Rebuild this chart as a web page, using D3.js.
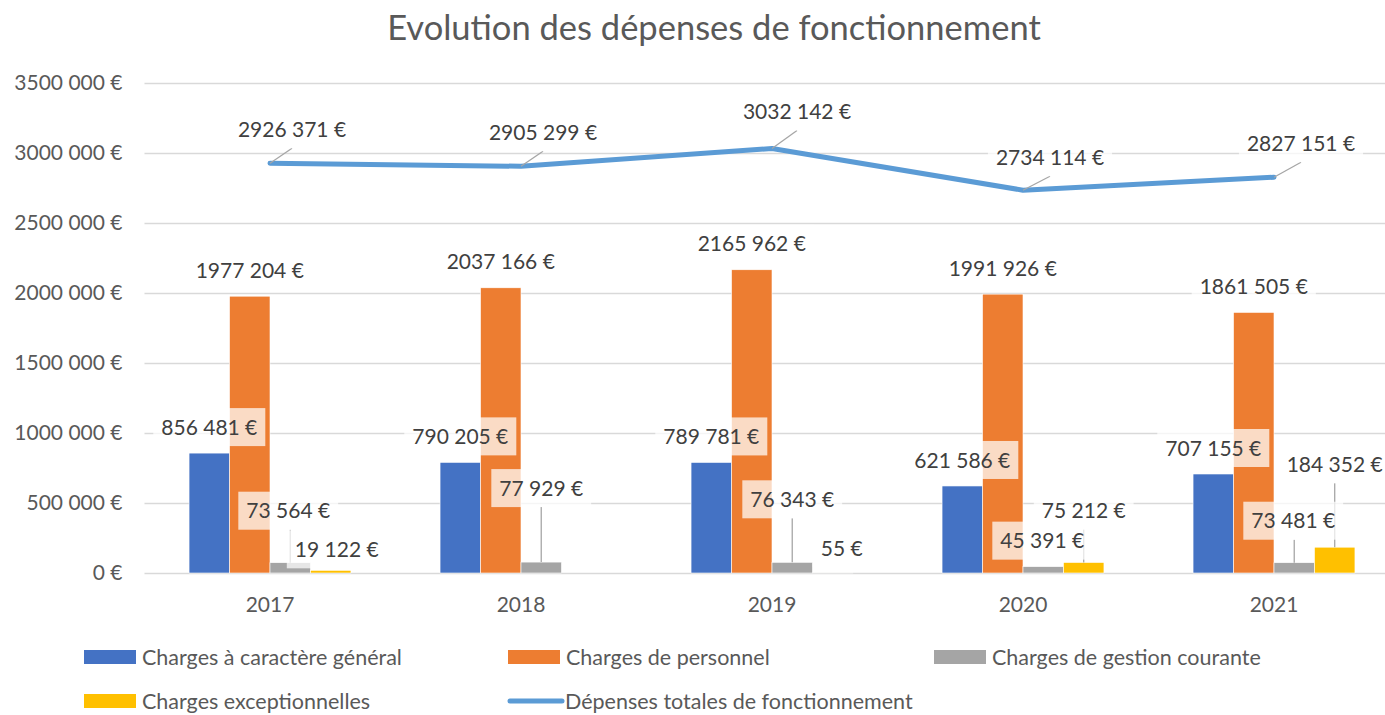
<!DOCTYPE html>
<html lang="fr">
<head>
<meta charset="utf-8">
<script src="https://cdn.jsdelivr.net/npm/d3@7"></script>
<style>
  html, body { margin: 0; padding: 0; background: #ffffff; }
  svg { display: block; font-family: Lato, "Open Sans", sans-serif; }
</style>
</head>
<body>
<svg id="chart" width="1385" height="715"></svg>
<script>
// ---- Data -------------------------------------------------------------
const years = ["2017", "2018", "2019", "2020", "2021"];
const seriesNames = [
  "Charges à caractère général",
  "Charges de personnel",
  "Charges de gestion courante",
  "Charges exceptionnelles"
];
const chargesGenerales       = [856481, 790205, 789781, 621586, 707155];
const chargesPersonnel       = [1977204, 2037166, 2165962, 1991926, 1861505];
const chargesGestion         = [73564, 77929, 76343, 45391, 73481];
const chargesExceptionnelles = [19122, null, 55, 75212, 184352];
const totalName = "Dépenses totales de fonctionnement";
const depensesTotales        = [2926371, 2905299, 3032142, 2734114, 2827151];
const yTicks = [0, 500000, 1000000, 1500000, 2000000, 2500000, 3000000, 3500000];
const title = "Evolution des dépenses de fonctionnement";

// ---- Layout / style ---------------------------------------------------
const colors = ["#4472C4", "#ED7D31", "#A5A5A5", "#FFC000"];
const lineColor = "#5B9BD5";
const plot = { left: 144.5, right: 1399.5, top: 83, bottom: 573 };
const FS = "21px";

// Hand-placed data label nudges (pixels, relative to the bar top / point)
const gestionLabelNudge = [[-2, -52], [0, -74], [0, -63], [-1, -26], [-1, -42]];
const exceptLabelNudge  = [[6, -21], [0, 0], [9, -25], [0, -52], [0, -83]];
const totalLabelNudge   = [[22, -34], [22, -34], [25, -37], [27, -33], [27, -34]];

const fmt = v => {
  const s = String(Math.round(v));
  return (s.length > 3 ? s.slice(0, -3) + " " + s.slice(-3) : s) + " €";
};

const svg = d3.select("#chart");

const x0 = d3.scaleBand().domain(years)
  .range([plot.left, plot.right]).paddingInner(0.355).paddingOuter(0.1775);
const x1 = d3.scaleBand().domain(d3.range(4)).range([0, x0.bandwidth()]).padding(0);
const y = d3.scaleLinear().domain([0, 3500000]).range([plot.bottom, plot.top]);

// Title
svg.append("text")
  .attr("x", 714).attr("y", 40)
  .attr("text-anchor", "middle")
  .attr("fill", "#595959")
  .style("font-size", "34.5px")
  .text(title);

// Gridlines + y axis labels
const yAxis = d3.axisLeft(y).tickValues(yTicks).tickFormat(fmt)
  .tickSize(-(plot.right - plot.left)).tickPadding(22);
const gy = svg.append("g").attr("transform", `translate(${plot.left},0)`).call(yAxis);
gy.select(".domain").remove();
gy.selectAll(".tick line").attr("stroke", "#D9D9D9").attr("stroke-width", 1.3);
gy.selectAll(".tick text").attr("fill", "#595959").style("font-size", FS)
  .style("font-family", "Lato, sans-serif");

// X axis labels
const xAxis = d3.axisBottom(x0).tickSize(0).tickPadding(24);
const gx = svg.append("g").attr("transform", `translate(0,${plot.bottom})`).call(xAxis);
gx.select(".domain").remove();
gx.selectAll(".tick text").attr("fill", "#595959").style("font-size", FS)
  .style("font-family", "Lato, sans-serif");

// Bars
const seriesValues = [chargesGenerales, chargesPersonnel, chargesGestion, chargesExceptionnelles];
const bars = [];
seriesValues.forEach((vals, s) => {
  vals.forEach((v, i) => {
    if (v == null) return;
    bars.push({ s, i, v, x: x0(years[i]) + x1(s), w: x1.bandwidth() });
  });
});
svg.append("g").selectAll("rect").data(bars).join("rect")
  .attr("x", d => d.x)
  .attr("y", d => y(d.v))
  .attr("width", d => d.w)
  .attr("height", d => y(0) - y(d.v))
  .attr("fill", d => colors[d.s])
  .attr("stroke", "#ffffff").attr("stroke-width", 0.6);

// Total line
const pts = depensesTotales.map((v, i) => ({ i, v, x: x0(years[i]) + x0.bandwidth() / 2, y: y(v) }));
svg.append("path")
  .datum(pts)
  .attr("d", d3.line().x(d => d.x).y(d => d.y))
  .attr("fill", "none").attr("stroke", lineColor).attr("stroke-width", 5)
  .attr("stroke-linejoin", "round").attr("stroke-linecap", "round");

// ---- Data labels --------------------------------------------------------
const leaderLayer = svg.append("g");
const labelLayer = svg.append("g");
const PADX = 8, BOXH = 38;

function addLabel(cx, cy, text) {
  const g = labelLayer.append("g");
  const rect = g.append("rect").attr("fill", "#ffffff").attr("fill-opacity", 0.72);
  const t = g.append("text")
    .attr("x", cx).attr("y", cy).attr("dy", "0.36em")
    .attr("text-anchor", "middle").attr("fill", "#404040")
    .style("font-size", FS)
    .text(text);
  const w = t.node().getComputedTextLength() + 2 * PADX;
  rect.attr("x", cx - w / 2).attr("y", cy - BOXH / 2).attr("width", w).attr("height", BOXH);
  return { cx, cy, w, top: cy - BOXH / 2, bottom: cy + BOXH / 2 };
}

function leader(x1p, y1p, x2p, y2p) {
  leaderLayer.append("line")
    .attr("x1", x1p).attr("y1", y1p).attr("x2", x2p).attr("y2", y2p)
    .attr("stroke", "#A6A6A6").attr("stroke-width", 1.3);
}

bars.forEach(d => {
  const bx = d.x + d.w / 2, top = y(d.v);
  if (d.s <= 1) {
    addLabel(bx, top - 7 - BOXH / 2, fmt(d.v));
  } else {
    const n = (d.s === 2 ? gestionLabelNudge : exceptLabelNudge)[d.i];
    const box = addLabel(bx + n[0], top + n[1], fmt(d.v));
    if (top - box.bottom > 9) leader(bx, box.bottom, bx, top);
  }
});

pts.forEach(p => {
  const n = totalLabelNudge[p.i];
  const box = addLabel(p.x + n[0], p.y + n[1], fmt(p.v));
  leader(p.x, p.y, box.cx, box.bottom);
});

// ---- Legend ------------------------------------------------------------
const legendItems = [
  { name: seriesNames[0], color: colors[0], type: "rect", col: 0, row: 0 },
  { name: seriesNames[1], color: colors[1], type: "rect", col: 1, row: 0 },
  { name: seriesNames[2], color: colors[2], type: "rect", col: 2, row: 0 },
  { name: seriesNames[3], color: colors[3], type: "rect", col: 0, row: 1 },
  { name: totalName, color: lineColor, type: "line", col: 1, row: 1 }
];
const legendCols = [84, 508, 934], legendRows = [657, 701];
const lg = svg.append("g").selectAll("g").data(legendItems).join("g")
  .attr("transform", d => `translate(${legendCols[d.col]},${legendRows[d.row]})`);
lg.filter(d => d.type === "rect").append("rect")
  .attr("x", 0).attr("y", -7).attr("width", 52).attr("height", 14)
  .attr("fill", d => d.color);
lg.filter(d => d.type === "line").append("line")
  .attr("x1", 2).attr("x2", 54).attr("y1", 0).attr("y2", 0)
  .attr("stroke", d => d.color).attr("stroke-width", 5).attr("stroke-linecap", "round");
lg.append("text")
  .attr("x", d => d.type === "line" ? 57 : 58).attr("y", 0).attr("dy", "0.36em")
  .attr("fill", "#595959").style("font-size", "21.5px")
  .text(d => d.name);
</script>
</body>
</html>
